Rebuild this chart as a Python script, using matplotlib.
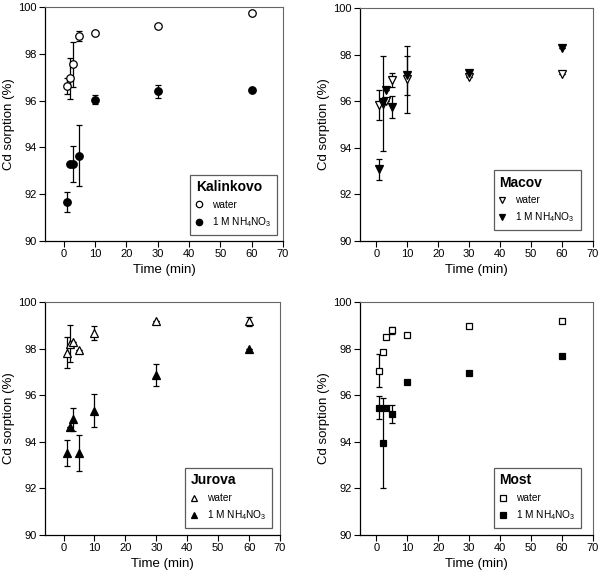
import numpy as np
import matplotlib
matplotlib.use("Agg")
import matplotlib.pyplot as plt

plt.rcParams['font.family'] = ['Liberation Sans', 'DejaVu Sans']
plt.rcParams['mathtext.fontset'] = 'custom'
plt.rcParams['mathtext.rm'] = 'Liberation Sans'
plt.rcParams['mathtext.default'] = 'regular'

# sampling times (min)
time = [1, 2, 3, 5, 10, 30, 60]

sites = ["Kalinkovo", "Macov", "Jurova", "Most"]
markers = ["o", "v", "^", "s"]

# Cd sorption (%) - water extraction
water = {
    "Kalinkovo": [96.62, 96.95, 97.56, 98.76, 98.88, 99.20, 99.76],
    "Macov":     [95.84, 95.90, 96.00, 96.92, 96.94, 97.06, 97.17],
    "Jurova":    [97.83, 98.21, 98.28, 97.95, 98.67, 99.20, 99.17],
    "Most":      [97.06, 97.86, 98.48, 98.78, 98.60, 98.98, 99.17],
}
water_err = {
    "Kalinkovo": [0.35, 0.88, 0.96, 0.22, 0, 0, 0],
    "Macov":     [0.65, 2.05, 0, 0.30, 1.45, 0, 0],
    "Jurova":    [0.67, 0.79, 0, 0, 0.29, 0, 0.20],
    "Most":      [0.70, 0, 0, 0.16, 0, 0, 0],
}
# Cd sorption (%) - 1 M NH4NO3 extraction
nh4 = {
    "Kalinkovo": [91.65, 93.30, 93.30, 93.65, 96.04, 96.40, 96.45],
    "Macov":     [93.07, 95.97, 96.46, 95.77, 97.12, 97.20, 98.28],
    "Jurova":    [93.51, 94.65, 94.97, 93.51, 95.34, 96.88, 97.98],
    "Most":      [95.47, 93.94, 95.47, 95.19, 96.56, 96.97, 97.70],
}
nh4_err = {
    "Kalinkovo": [0.43, 0, 0.77, 1.32, 0.18, 0.28, 0],
    "Macov":     [0.47, 0, 0, 0.47, 0.84, 0, 0],
    "Jurova":    [0.55, 0, 0.50, 0.77, 0.72, 0.47, 0],
    "Most":      [0.50, 1.92, 0, 0.38, 0, 0, 0],
}

W, H = 602, 572
# axes boxes in pixels: left, right, top, bottom
boxes = [(45, 283, 7, 241), (360, 593, 8, 241), (45, 280, 302, 535), (360, 593, 302, 535)]
xmins = [-6, -5.3, -6, -5.3]
leg_anchor = [(0.975, 0.026), (0.947, 0.047), (0.966, 0.03), (0.948, 0.03)]

fig = plt.figure(figsize=(W / 100, H / 100), dpi=100)

for i, site in enumerate(sites):
    l, r, t, b = boxes[i]
    ax = fig.add_axes([l / W, 1 - b / H, (r - l) / W, (b - t) / H])
    m = markers[i]
    ms = 5.4 if m != "s" else 5.0

    ax.errorbar(time, water[site], yerr=water_err[site], fmt="none",
                ecolor="black", elinewidth=0.9, capsize=2.3, capthick=0.9, zorder=2)
    ax.errorbar(time, nh4[site], yerr=nh4_err[site], fmt="none",
                ecolor="black", elinewidth=0.9, capsize=2.3, capthick=0.9, zorder=2)
    ax.plot(time, water[site], linestyle="none", marker=m, ms=ms,
            mfc="white", mec="black", mew=0.9, zorder=3, label="water")
    ax.plot(time, nh4[site], linestyle="none", marker=m, ms=ms,
            mfc="black", mec="black", mew=0.9, zorder=3, label="1 M NH$_4$NO$_3$")

    ax.set_xlim(xmins[i], 70)
    ax.set_ylim(90, 100)
    ax.set_xticks(np.arange(0, 71, 10))
    ax.set_yticks(np.arange(90, 101, 2))
    ax.tick_params(direction="out", length=4, width=0.8, labelsize=8, pad=2, colors="black")
    for s in ["left", "bottom"]:
        ax.spines[s].set_linewidth(0.9)
    for s in ["top", "right"]:
        ax.spines[s].set_color("#666666")
        ax.spines[s].set_linewidth(0.8)
    ax.set_xlabel("Time (min)", fontsize=9.5, labelpad=3)
    ax.set_ylabel("Cd sorption (%)", fontsize=9.5, labelpad=2)

    leg = ax.legend(title=site, loc="lower right", bbox_to_anchor=leg_anchor[i],
                    frameon=True, fancybox=False, edgecolor="#333333", fontsize=7.3,
                    title_fontproperties={"weight": "bold", "size": 10},
                    alignment="left", handlelength=0.6, handletextpad=1.0,
                    borderpad=0.55, labelspacing=0.55, borderaxespad=0, markerscale=0.85)
    leg.get_frame().set_linewidth(0.9)

fig.savefig("out.png", dpi=100)
